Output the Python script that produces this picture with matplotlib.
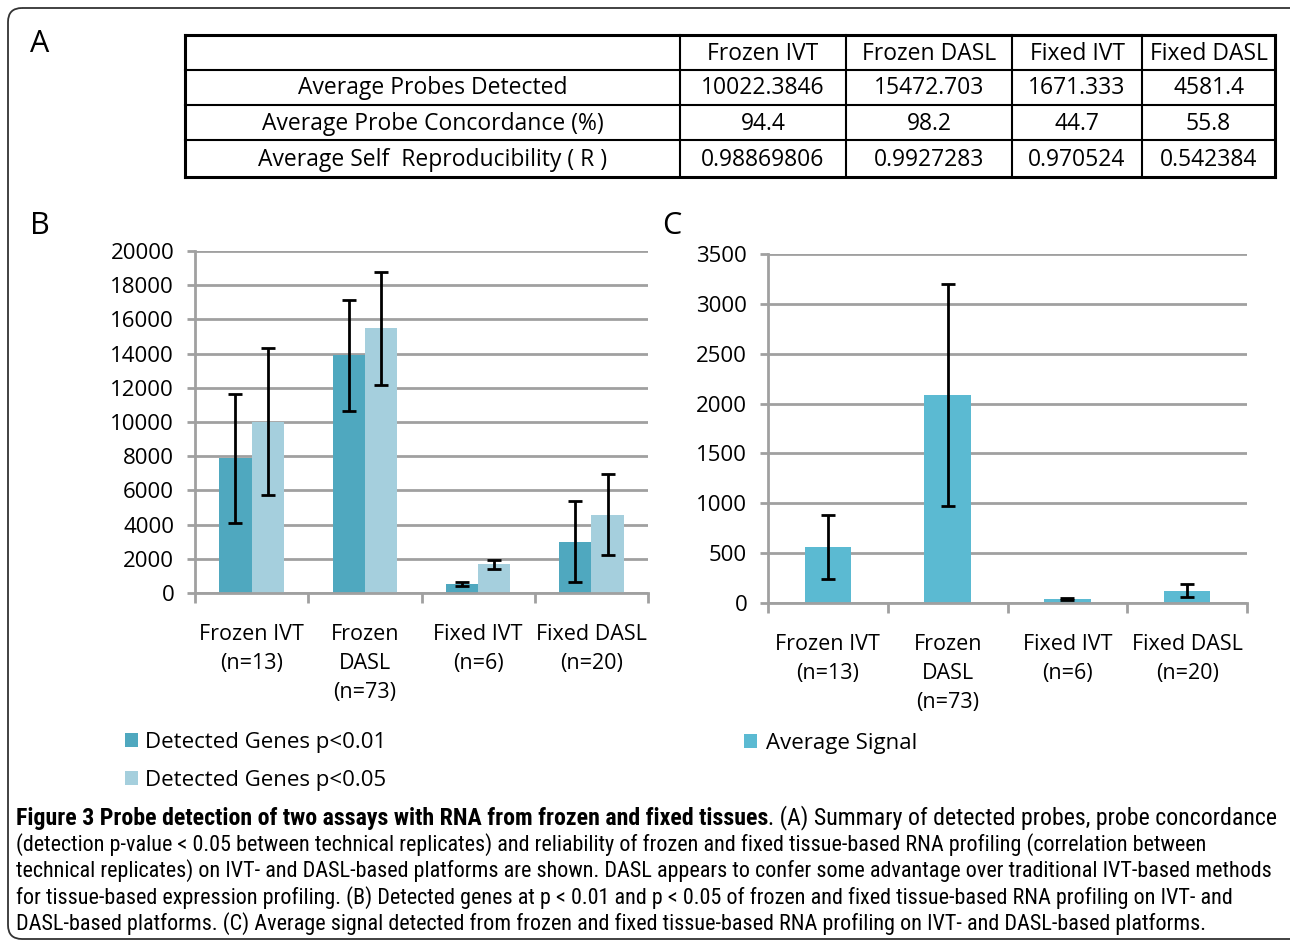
import numpy as np
import matplotlib
matplotlib.use("Agg")
import matplotlib.pyplot as plt
from matplotlib.patches import FancyBboxPatch
from matplotlib import font_manager

W, H = 1290, 943

# ---------------- data ----------------
categories = ["Frozen IVT\n(n=13)", "Frozen\nDASL\n(n=73)", "Fixed IVT\n(n=6)", "Fixed DASL\n(n=20)"]
table_cols = ["Frozen IVT", "Frozen DASL", "Fixed IVT", "Fixed DASL"]
table_rows = ["Average Probes Detected", "Average Probe Concordance (%)", "Average Self  Reproducibility ( R )"]
table_vals = [["10022.3846", "15472.703", "1671.333", "4581.4"],
              ["94.4", "98.2", "44.7", "55.8"],
              ["0.98869806", "0.9927283", "0.970524", "0.542384"]]

genes_p01 = [7880, 13900, 530, 2990]
genes_p01_err = [3780, 3240, 115, 2370]
genes_p05 = [10022, 15473, 1671, 4581]
genes_p05_err = [4310, 3300, 280, 2370]

avg_signal = [564, 2088, 43, 124]
avg_signal_err = [320, 1112, 8, 65]

caption_bold = "Figure 3 Probe detection of two assays with RNA from frozen and fixed tissues"
caption_lines = [
    ". (A) Summary of detected probes, probe concordance",
    "(detection p-value < 0.05 between technical replicates) and reliability of frozen and fixed tissue-based RNA profiling (correlation between",
    "technical replicates) on IVT- and DASL-based platforms are shown. DASL appears to confer some advantage over traditional IVT-based methods",
    "for tissue-based expression profiling. (B) Detected genes at p < 0.01 and p < 0.05 of frozen and fixed tissue-based RNA profiling on IVT- and",
    "DASL-based platforms. (C) Average signal detected from frozen and fixed tissue-based RNA profiling on IVT- and DASL-based platforms.",
]

DARK = "#4fa8bf"
LIGHT = "#a5cfdd"
SIG = "#5bbad2"
GRID = "#a0a0a0"

avail = set(f.name for f in font_manager.fontManager.ttflist)
FONT = "Open Sans" if "Open Sans" in avail else "DejaVu Sans"
CAPFONT = FONT
for cand in ["Liberation Sans Narrow", "DejaVu Sans Condensed", "Roboto Condensed", "Open Sans"]:
    if cand in avail:
        CAPFONT = cand
        break
plt.rcParams["font.family"] = FONT

fig = plt.figure(figsize=(W / 100, H / 100), dpi=100)

# overlay axes in pixel coordinates
ov = fig.add_axes([0, 0, 1, 1])
ov.set_xlim(0, W)
ov.set_ylim(H, 0)
ov.axis("off")

def fax(l, t, r, b):
    return fig.add_axes([l / W, 1 - b / H, (r - l) / W, (b - t) / H])

# border
ov.add_patch(FancyBboxPatch((8, 8), 1310, 931, boxstyle="round,pad=0,rounding_size=14",
                            fill=False, ec="#333333", lw=1.3))

# panel letters
for lab, xx, yy in [("A", 30, 44), ("B", 30, 226), ("C", 662, 226)]:
    ov.text(xx, yy, lab, fontsize=22, va="center", ha="left")

# ---------------- table (A) ----------------
xs = [185, 680, 846, 1012, 1142, 1275]
ys = [35, 70, 105, 140, 177]
for xx in xs:
    lw = 2.2 if xx in (xs[0], xs[-1]) else 1.5
    ov.plot([xx, xx], [ys[0], ys[-1]], color="black", lw=lw, solid_capstyle="projecting")
for yy in ys:
    lw = 2.2 if yy in (ys[0], ys[-1]) else 1.5
    ov.plot([xs[0], xs[-1]], [yy, yy], color="black", lw=lw, solid_capstyle="projecting")
TFS = 16.5
for j, c in enumerate(table_cols):
    ov.text((xs[j + 1] + xs[j + 2]) / 2, (ys[0] + ys[1]) / 2 + 1, c, ha="center", va="center", fontsize=TFS)
for i, r in enumerate(table_rows):
    ov.text((xs[0] + xs[1]) / 2, (ys[i + 1] + ys[i + 2]) / 2 + 1, r, ha="center", va="center", fontsize=TFS)
    for j, v in enumerate(table_vals[i]):
        ov.text((xs[j + 1] + xs[j + 2]) / 2, (ys[i + 1] + ys[i + 2]) / 2 + 1, v, ha="center", va="center", fontsize=TFS)

def style(ax, ymax, step):
    ax.set_xlim(-0.5, 3.5)
    ax.set_ylim(0, ymax)
    ax.set_yticks(np.arange(0, ymax + 1, step))
    ax.grid(axis="y", color=GRID, lw=2)
    ax.set_axisbelow(True)
    for s in ["top", "right"]:
        ax.spines[s].set_visible(False)
    for s in ["left", "bottom"]:
        ax.spines[s].set_color(GRID)
        ax.spines[s].set_linewidth(2)
    ax.set_xticks(np.arange(-0.5, 4, 1))
    ax.set_xticklabels([])
    ax.set_xticks(np.arange(4), minor=True)
    ax.set_xticklabels(categories, minor=True, fontsize=15.5, linespacing=1.5, va="top")
    ax.tick_params(axis="x", which="major", length=7, width=2, color=GRID)
    ax.tick_params(axis="x", which="minor", length=0, pad=22)
    ax.tick_params(axis="y", length=6, width=2, color=GRID, labelsize=16, pad=9)

# ---------------- panel B ----------------
axB = fax(195, 251, 648, 593)
x = np.arange(len(categories))
bw = 0.285
ek = dict(ecolor="black", elinewidth=2, capsize=5, capthick=2)
b1 = axB.bar(x - bw / 2, genes_p01, bw, yerr=genes_p01_err, color=DARK, error_kw=ek,
             label="Detected Genes p<0.01")
b2 = axB.bar(x + bw / 2, genes_p05, bw, yerr=genes_p05_err, color=LIGHT, error_kw=ek,
             label="Detected Genes p<0.05")
style(axB, 20000, 2000)
axB.legend(handles=[b1, b2], loc="upper left", bbox_to_anchor=(116 / W, 1 - 723 / H),
           bbox_transform=fig.transFigure, frameon=False, fontsize=16, handlelength=0.6,
           handleheight=0.6, handletextpad=0.3, labelspacing=0.78, borderaxespad=0)

# ---------------- panel C ----------------
axC = fax(768, 254, 1247, 603)
bc = axC.bar(x, avg_signal, 0.39, yerr=avg_signal_err, color=SIG, error_kw=ek, label="Average Signal")
style(axC, 3500, 500)
axC.legend(handles=[bc], loc="upper left", bbox_to_anchor=(735 / W, 1 - 724 / H),
           bbox_transform=fig.transFigure, frameon=False, fontsize=16, handlelength=0.6,
           handleheight=0.6, handletextpad=0.4, borderaxespad=0)

# ---------------- caption ----------------
line_y = [818, 845, 871, 898, 924]
fig.canvas.draw()
r = fig.canvas.get_renderer()
# regular lines: fit the widest one (line 3) to the box width
texts = [ov.text(16, yy, s, fontsize=12, family=CAPFONT, va="center")
         for yy, s in zip(line_y[1:], caption_lines[1:])]
widest = max(t.get_window_extent(r).width for t in texts)
fs = 12 * 1250 / widest
for t in texts:
    t.set_fontsize(fs)
# first line: bold lead-in followed by regular text, fitted to the full width
t1 = ov.text(16, line_y[0], caption_bold, fontsize=fs, fontweight="bold", family=CAPFONT, va="center")
t2 = ov.text(16, line_y[0], caption_lines[0], fontsize=fs, family=CAPFONT, va="center")
wtot = t1.get_window_extent(r).width + t2.get_window_extent(r).width
fs1 = fs * 1262 / wtot
t1.set_fontsize(fs1)
t2.set_fontsize(fs1)
t2.set_x(16 + t1.get_window_extent(r).width)

fig.savefig("out.png", dpi=100)
